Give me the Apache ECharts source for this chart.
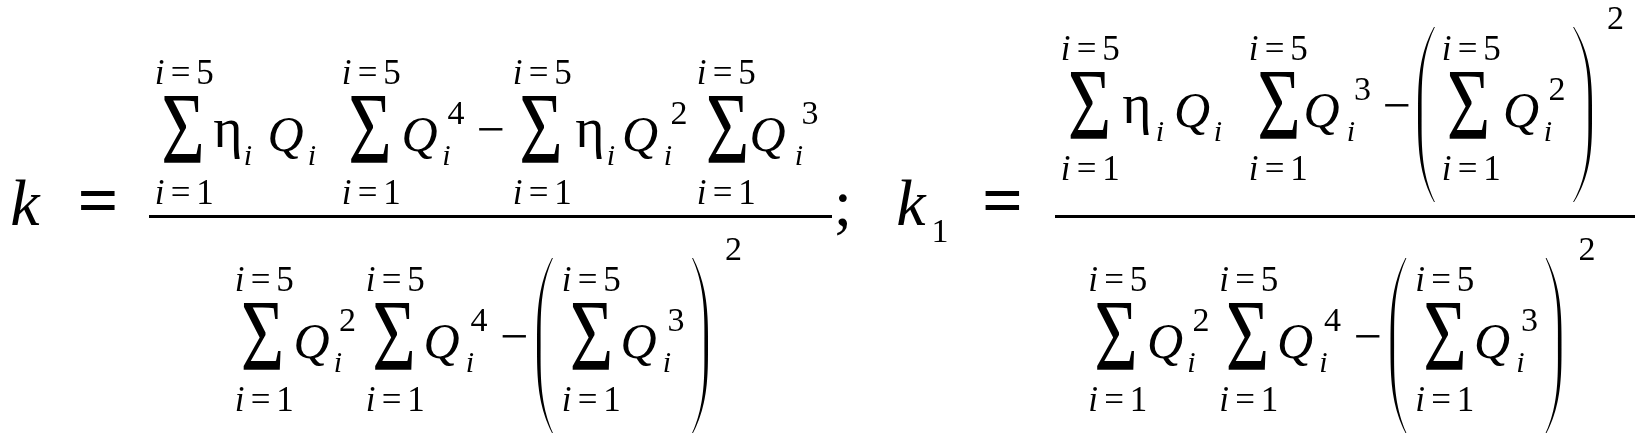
<!DOCTYPE html>
<html>
<head>
<meta charset="utf-8">
<script src="https://cdn.jsdelivr.net/npm/echarts/dist/echarts.min.js"></script>
<style>
html,body{margin:0;padding:0;background:#fff;overflow:hidden}
#c{width:1635px;height:440px}
.pre{position:absolute;left:-3000px;top:0;font:40px 'Liberation Serif'}
</style>
</head>
<body>
<div id="c"></div>
<div class="pre">kQηΣ=;12345− <i>kQi</i> <b>=</b></div>
<script>
// ---- formula content ----
const upperLimit = ['i', '=', '5'];
const lowerLimit = ['i', '=', '1'];
const lhsNames = [['k', ''], ['k', '1']];
const numerator1 = [['Σ'], ['η', 'i'], ['Q', 'i'], ['Σ'], ['Q', 'i', '4'], ['−'], ['Σ'], ['η', 'i'], ['Q', 'i', '2'], ['Σ'], ['Q', 'i', '3']];
const numerator2 = [['Σ'], ['η', 'i'], ['Q', 'i'], ['Σ'], ['Q', 'i', '3'], ['−'], ['('], ['Σ'], ['Q', 'i', '2'], [')', '', '2']];
const denominator = [['Σ'], ['Q', 'i', '2'], ['Σ'], ['Q', 'i', '4'], ['−'], ['('], ['Σ'], ['Q', 'i', '3'], [')', '', '2']];
const separator = ';';

// ---- layout (positions kept apart from content) ----
const num1Pos = [[183, 184], [228, 248], [285.5, 312], [370, 371], [419.5, 446.5, 456], [490.5], [541, 542], [590, 611], [640, 668, 679], [727.5, 726], [767.5, 799, 810]];
const num2Pos = [[1089.5, 1090], [1137, 1160], [1192, 1218], [1279, 1278], [1321.5, 1351, 1362.5], [1396.5], [1418, 1435], [1468.5, 1471], [1521, 1548, 1557], [1573, 1592, 1615.5]];
const denPos = [[262.5, 264], [311.5, 338, 347.5], [394, 395], [441.5, 470, 479], [514], [537, 553], [591.5, 591], [638.5, 667, 676], [692, 708, 733.5]];
const denShift = [0, 853.5];
const B1 = 154, B2 = 130, B3 = 361, MAINBASE = 230;

const FF = 'Liberation Serif';
const mctx = document.createElement('canvas').getContext('2d');
function measure(s, size, italic, bold) {
  mctx.font = (italic ? 'italic ' : 'normal ') + (bold ? 'bold ' : 'normal ') + size + 'px ' + FF;
  return mctx.measureText(s).width;
}
const els = [];
// cx: horizontal centre of glyph advance; base: alphabetic baseline
function txt(s, cx, base, size, o) {
  o = o || {};
  const sx = o.sx || 1;
  const w = measure(s, size, o.italic, o.bold);
  const st = { text: s, fontFamily: FF, fontSize: size, fontStyle: o.italic ? 'italic' : 'normal', fill: '#000' };
  if (o.bold) st.fontWeight = 'bold';
  const el = { type: 'text', x: cx - sx * w / 2, y: base - 0.8375 * size, style: st };
  if (o.sx) el.scaleX = o.sx;
  els.push(el);
}
function limit(arr, cx, base) {
  txt(arr[0], cx - 24.5, base, 35, { italic: true });
  txt(arr[1], cx - 3.5, base, 35);
  txt(arr[2], cx + 21, base, 35);
}
function paren(x0, x1, yTop, yBot, left) {
  const N = 80, W = x1 - x0 - 1, outer = [], inner = [];
  for (let j = 0; j <= N; j++) {
    const s = j / N, y = yTop + s * (yBot - yTop), u = Math.abs(2 * s - 1);
    const f = Math.pow(u, 3), th = 0.9 + 2.7 * (1 - u * u);
    if (left) { const xo = x0 + W * f; outer.push([xo, y]); inner.push([xo + th, y]); }
    else { const xo = x1 - W * f; outer.push([xo, y]); inner.push([xo - th, y]); }
  }
  els.push({ type: 'polygon', shape: { points: outer.concat(inner.reverse()) }, style: { fill: '#000' } });
}
function row(items, pos, B, dx) {
  items.forEach((it, n) => {
    const p = pos[n].map(v => v + dx);
    const b = it[0];
    if (b === 'Σ') {
      txt('Σ', p[0], B + 17, 101, { sx: 0.74 });
      limit(upperLimit, p[1], B - 67);
      limit(lowerLimit, p[1], B + 53);
    } else if (b === '−') {
      txt('−', p[0], B - 4, 50);
    } else if (b === '(' || b === ')') {
      paren(p[0], p[1], B - 103, B + 72, b === '(');
      if (it[2]) txt(it[2], p[2], B - 98, 34);
    } else if (b === 'η') {
      txt('η', p[0], B - 3, 56);
      txt(it[1], p[1], B + 13, 30, { italic: true });
    } else {
      txt(b, p[0], B + 1, 50, { italic: true });
      if (it[1]) txt(it[1], p[1], B + 13, 30, { italic: true });
      if (it[2]) txt(it[2], p[2], B - 27, 34);
    }
  });
}

// left-hand sides
txt(lhsNames[0][0], 25, MAINBASE, 66, { italic: true });
txt('=', 98, MAINBASE, 72, { bold: true });
txt(separator, 843, MAINBASE, 66);
txt(lhsNames[1][0], 911, MAINBASE, 66, { italic: true });
txt(lhsNames[1][1], 940, MAINBASE + 15, 34);
txt('=', 1002.5, MAINBASE, 72, { bold: true });

// fraction bars
els.push({ type: 'rect', shape: { x: 149, y: 215, width: 683, height: 3 }, style: { fill: '#000' } });
els.push({ type: 'rect', shape: { x: 1055, y: 215, width: 580, height: 3 }, style: { fill: '#000' } });

row(numerator1, num1Pos, B1, 0);
row(numerator2, num2Pos, B2, 0);
denShift.forEach(d => row(denominator, denPos, B3, d));

const chart = echarts.init(document.getElementById('c'));
chart.setOption({ animation: false, graphic: { elements: els } });
</script>
</body>
</html>
